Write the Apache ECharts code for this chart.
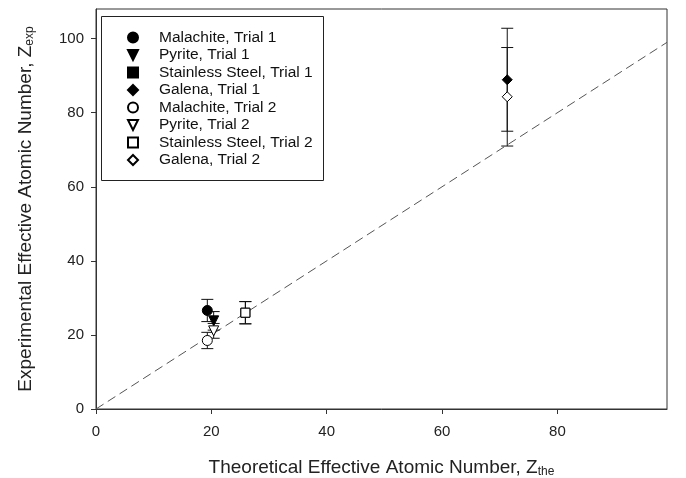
<!DOCTYPE html>
<html>
<head>
<meta charset="utf-8">
<script src="https://cdn.jsdelivr.net/npm/echarts@6/dist/echarts.min.js"></script>
<style>
  html, body { margin: 0; padding: 0; background: #fff; }
  #main { width: 686px; height: 478px; }
</style>
</head>
<body>
<div id="main"></div>
<script>
// sample names, in legend order
var sampleNames = [
    'Malachite, Trial 1', 'Pyrite, Trial 1', 'Stainless Steel, Trial 1', 'Galena, Trial 1',
    'Malachite, Trial 2', 'Pyrite, Trial 2', 'Stainless Steel, Trial 2', 'Galena, Trial 2'
];
// theoretical Z, experimental Z and its error
var zThe = [19.3, 20.4, 25.9, 71.3, 19.3, 20.4, 25.9, 71.3];
var zExp = [26.6, 23.8, 26.0, 88.9, 18.5, 21.1, 26.0, 84.3];
var zErr = [3.0, 2.5, 3.0, 13.9, 2.2, 2.0, 3.0, 13.3];
// marker shape and filled or open
var symbols = ['circle', 'path://M0,0L10,0L5,10Z', 'rect', 'diamond',
               'circle', 'path://M0,0L10,0L5,10Z', 'rect', 'diamond'];
var filled = [true, true, true, true, false, false, false, false];
// the 1:1 line
var lineX = [0, 99];

var myChart = echarts.init(document.getElementById('main'));

var series = [];

series.push({
    type: 'line',
    data: lineX.map(function (v) { return [v, v]; }),
    symbol: 'none',
    silent: true,
    lineStyle: { color: '#555', width: 1, type: [9, 5] },
    z: 1
});

series.push({
    type: 'custom',
    silent: true,
    z: 2,
    data: zThe.map(function (x, i) { return [x, zExp[i] - zErr[i], zExp[i] + zErr[i]]; }),
    renderItem: function (params, api) {
        var top = api.coord([api.value(0), api.value(2)]);
        var bot = api.coord([api.value(0), api.value(1)]);
        var w = 6;
        var st = { stroke: '#111', lineWidth: 1 };
        return {
            type: 'group',
            children: [
                { type: 'line', shape: { x1: top[0], y1: top[1], x2: bot[0], y2: bot[1] }, style: st },
                { type: 'line', shape: { x1: top[0] - w, y1: top[1], x2: top[0] + w, y2: top[1] }, style: st },
                { type: 'line', shape: { x1: bot[0] - w, y1: bot[1], x2: bot[0] + w, y2: bot[1] }, style: st }
            ]
        };
    }
});

sampleNames.forEach(function (name, i) {
    series.push({
        name: name,
        type: 'scatter',
        data: [[zThe[i], zExp[i]]],
        symbol: symbols[i],
        symbolSize: symbols[i] === 'rect' ? 9 : 10,
        z: 3 + i,
        itemStyle: filled[i]
            ? { color: '#000', borderColor: '#000', borderWidth: 1, opacity: 1 }
            : { color: '#fff', borderColor: '#000', borderWidth: 1, opacity: 1 }
    });
});

var titleStyle = {
    fontSize: 19, color: '#222',
    rich: { sub: { fontSize: 12, color: '#222', verticalAlign: 'bottom', padding: [9, 0, 0, 0] } }
};

var option = {
    animation: false,
    textStyle: { fontFamily: 'Liberation Sans, Arial, sans-serif' },
    grid: {
        left: 96, right: 19, top: 9, bottom: 69,
        outerBoundsMode: 'none',
        containLabel: false,
        show: true, borderColor: '#333', borderWidth: 1
    },
    graphic: [{
        type: 'rect',
        shape: { x: 101.5, y: 16.5, width: 222, height: 164 },
        style: { fill: '#fff', stroke: '#222', lineWidth: 1 },
        z: 50
    }],
    legend: {
        data: sampleNames,
        orient: 'vertical',
        left: 127,
        top: 29,
        padding: 0,
        itemWidth: 10,
        itemHeight: 10,
        itemGap: 0.5,
        z: 60,
        textStyle: { fontSize: 15.5, color: '#111', lineHeight: 17, padding: [0, 0, 0, 16] }
    },
    xAxis: {
        type: 'value',
        min: 0, max: 99, interval: 20,
        name: 'Theoretical Effective Atomic Number, Z{sub|the}',
        nameLocation: 'middle',
        nameGap: 48,
        nameTextStyle: titleStyle,
        axisLine: { lineStyle: { color: '#333', width: 1 } },
        axisTick: { inside: false, length: 5, lineStyle: { color: '#333' } },
        axisLabel: { fontSize: 15, color: '#222', margin: 15, showMaxLabel: false },
        splitLine: { show: false }
    },
    yAxis: {
        type: 'value',
        min: 0, max: 108, interval: 20,
        name: 'Experimental Effective Atomic Number, Z{sub|exp}',
        nameLocation: 'middle',
        nameGap: 60,
        nameTextStyle: titleStyle,
        axisLine: { lineStyle: { color: '#333', width: 1 } },
        axisTick: { inside: false, length: 5, lineStyle: { color: '#333' } },
        axisLabel: { fontSize: 15, color: '#222', margin: 12, showMaxLabel: false },
        splitLine: { show: false }
    },
    series: series
};

myChart.setOption(option);
</script>
</body>
</html>
